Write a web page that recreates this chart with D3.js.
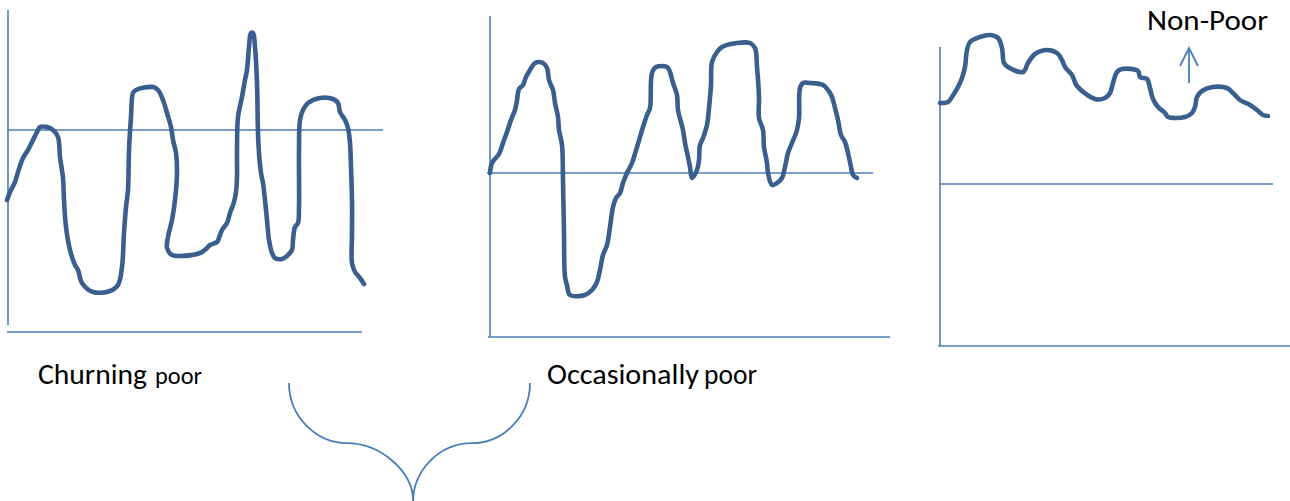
<!DOCTYPE html>
<html><head><meta charset="utf-8">
<script src="https://cdn.jsdelivr.net/npm/d3@7"></script>
<style>html,body{margin:0;padding:0;background:#fff;} svg{display:block;}</style>
</head><body>
<svg id="c" width="1290" height="501"></svg>
<script>
// ---- data (time in panel-local units, income in panel-local units; poverty line given separately)
const churningT = [0,3,8,11,16,21,26,30,33,40,46,51,53,56,57,59,63,68,71,75,86,103,111,115,117,119,121,122,124,126,129,146,151,156,160,164,166,169,170,168,165,161,160,165,173,193,200,203,210,213,215,220,223,227,229,230,230,231,235,238,240,242,244,246,248,250,251,252,254,256,258,260,262,265,268,275,280,285,286,288,291,292,292,293,296,301,313,326,331,333,338,341,343,344,345,345,345,348,353,357];
const churningV = [132,140,150,160,174,182,192,200,205,205,202,195,175,154,132,105,82,67,62,49,40,41,47,65,99,125,142,182,215,239,242,245,242,232,219,205,192,179,159,132,112,95,84,77,76,79,84,87,90,97,102,109,119,130,140,155,182,215,235,252,262,285,299,299,285,249,199,179,159,149,132,112,92,79,74,73,76,82,92,105,109,125,182,212,222,229,234,233,229,220,212,204,189,165,132,99,69,60,54,48];
const churningLine = 202;

const occasionalT = [0,2,9,13,17,21,25,27,29,33,36,40,45,53,57,59,63,65,68,69,72,73,74,75,77,80,95,102,107,110,113,117,120,123,126,130,133,137,142,147,153,157,160,162,166,177,180,183,187,188,193,195,198,200,202,207,209,210,213,217,219,221,222,227,232,247,260,265,267,269,269,273,274,277,278,282,287,292,295,298,302,307,309,310,313,320,333,338,342,345,348,351,355,358,361,363,367];
const occasionalV = [164,174,183,194,205,217,227,237,248,252,260,267,274,274,269,257,247,234,220,207,192,157,104,60,52,42,42,47,55,67,82,92,110,130,139,144,154,164,174,190,210,222,229,264,270,270,265,254,242,227,207,194,180,170,159,167,177,192,199,212,229,252,275,285,290,294,294,289,270,240,219,207,190,174,164,152,154,159,170,184,194,207,219,249,254,254,252,247,240,229,217,202,195,184,170,162,159];
const occasionalLine = 164;

const nonPoorT = [0,8,12,18,22,25,27,30,40,50,58,62,64,68,83,88,95,107,117,122,125,132,137,155,165,170,173,177,182,198,200,207,210,213,218,225,228,245,252,255,257,262,273,287,293,300,310,317,323,328];
const nonPoorV = [243,244,249,259,268,279,296,304,309,311,308,298,283,279,274,283,292,296,293,286,279,271,260,247,248,253,263,274,277,275,269,267,258,247,239,233,229,229,233,239,249,255,259,258,253,246,241,236,231,230];
const nonPoorLine = 162;

const labelWords = ["Churning", "poor", "Occasionally", "poor", "Non-Poor"];

// ---- drawing
const svg = d3.select("#c");
const curveColor = "#3a5f8f";
const axisColor = "#4a7ebb";

function panel(cfg) {
  const x = d3.scaleLinear().domain([0, 100]).range([cfg.ox, cfg.ox + 100]);
  const y = d3.scaleLinear().domain([0, 100]).range([cfg.bottom, cfg.bottom - 100]);
  const g = svg.append("g");
  g.append("line").attr("x1", x(cfg.yAxisX)).attr("x2", x(cfg.yAxisX))
    .attr("y1", y(cfg.yAxis[0])).attr("y2", y(cfg.yAxis[1]))
    .attr("stroke", axisColor).attr("stroke-width", 1.6);
  g.append("line").attr("x1", x(cfg.xAxis[0])).attr("x2", x(cfg.xAxis[1]))
    .attr("y1", y(0)).attr("y2", y(0))
    .attr("stroke", axisColor).attr("stroke-width", 1.6);
  g.append("line").attr("x1", x(cfg.lineX[0])).attr("x2", x(cfg.lineX[1]))
    .attr("y1", y(cfg.line)).attr("y2", y(cfg.line))
    .attr("stroke", axisColor).attr("stroke-width", 1.6);
  const data = cfg.t.map((t, i) => [t, cfg.v[i]]);
  g.append("path").datum(data)
    .attr("d", d3.line().x(d => x(d[0])).y(d => y(d[1])).curve(d3.curveCatmullRom.alpha(0.5)))
    .attr("fill", "none").attr("stroke", curveColor).attr("stroke-width", 4.6)
    .attr("stroke-linejoin", "round").attr("stroke-linecap", "round");
  return {x, y, g};
}

const p1 = panel({ox: 7, bottom: 332, t: churningT, v: churningV, line: churningLine,
  yAxisX: 1, yAxis: [7, 322], xAxis: [0, 355], lineX: [0, 376]});
const p2 = panel({ox: 490, bottom: 337, t: occasionalT, v: occasionalV, line: occasionalLine,
  yAxisX: 0, yAxis: [0, 321], xAxis: [-2, 400], lineX: [-3, 383]});
const p3 = panel({ox: 940, bottom: 346, t: nonPoorT, v: nonPoorV, line: nonPoorLine,
  yAxisX: 0, yAxis: [0, 299], xAxis: [-2, 352], lineX: [0, 333]});

const font = "Calibri, Carlito, Lato, 'Open Sans', sans-serif";
function word(txt, x, y, size, len) {
  svg.append("text").attr("x", x).attr("y", y).attr("font-family", font)
    .attr("font-size", size).attr("fill", "#000")
    .attr("textLength", len).attr("lengthAdjust", "spacingAndGlyphs").text(txt);
}
word(labelWords[0], 38, 384, 28, 109);
word(labelWords[1], 155, 384, 24, 47);
word(labelWords[2], 547, 384, 28, 152);
word(labelWords[3], 704, 384, 28, 53);
word(labelWords[4], 1147, 30, 29, 121);

// arrow up
const ax = p3.x(249);
svg.append("line").attr("x1", ax).attr("x2", ax).attr("y1", p3.y(263)).attr("y2", p3.y(297))
  .attr("stroke", axisColor).attr("stroke-width", 1.8);
svg.append("path")
  .attr("d", `M${ax - 9},${p3.y(280)} L${ax},${p3.y(298)} L${ax + 9},${p3.y(280)}`)
  .attr("fill", "none").attr("stroke", axisColor).attr("stroke-width", 1.8);

// brace joining the two poor groups
const bx = d3.scaleLinear().domain([0, 100]).range([289, 530]);
const by = d3.scaleLinear().domain([0, 100]).range([383, 501]);
const m = 51.5;
svg.append("path")
  .attr("d", `M${bx(0)},${by(0)} C${bx(0)},${by(28)} ${bx(11)},${by(51)} ${bx(24)},${by(51)}`
    + ` C${bx(38)},${by(51)} ${bx(m)},${by(75)} ${bx(m)},${by(100)}`
    + ` M${bx(100)},${by(0)} C${bx(100)},${by(28)} ${bx(89)},${by(51)} ${bx(76)},${by(51)}`
    + ` C${bx(62)},${by(51)} ${bx(m)},${by(75)} ${bx(m)},${by(100)}`)
  .attr("fill", "none").attr("stroke", axisColor).attr("stroke-width", 1.8);
</script>
</body></html>
